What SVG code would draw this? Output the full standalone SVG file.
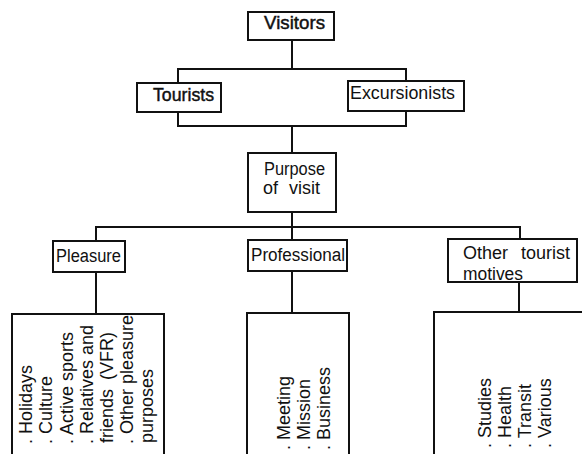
<svg xmlns="http://www.w3.org/2000/svg" width="582" height="454" viewBox="0 0 582 454">
  <style>
    .box { fill: #fff; stroke: #111; stroke-width: 2; }
    .wire { fill: none; stroke: #111; stroke-width: 2; stroke-linecap: square; }
    .lbl { font-family: "Liberation Sans", Arial, sans-serif; font-size: 18px; fill: #111; }
    .hd { font-family: "Liberation Sans", Arial, sans-serif; font-size: 18px; fill: #111; stroke: #111; stroke-width: 0.45; }
    .item { font-family: "Liberation Sans", Arial, sans-serif; font-size: 18px; fill: #111; }
  </style>
  <rect width="582" height="454" fill="#fff"/>

  <!-- connectors -->
  <g id="connectors" class="wire">
    <path d="M292 40 V69"/>
    <path d="M178 83 V69 H406 V81"/>
    <path d="M178 112 V126 H406 V111"/>
    <path d="M292 126 V153"/>
    <path d="M292 212 V227"/>
    <path d="M96 241 V227 H520 V239"/>
    <path d="M292 227 V240"/>
    <path d="M96 272 V314"/>
    <path d="M292 271 V313"/>
    <path d="M519 282 V312"/>
  </g>

  <g id="visitors">
    <rect class="box" x="248" y="12" width="86" height="28"/>
    <text class="hd" x="264" y="29" textLength="61" lengthAdjust="spacingAndGlyphs">Visitors</text>
  </g>

  <g id="tourists">
    <rect class="box" x="137" y="83" width="84" height="29"/>
    <text class="hd" x="153" y="101" textLength="61" lengthAdjust="spacingAndGlyphs">Tourists</text>
  </g>

  <g id="excursionists">
    <rect class="box" x="348" y="81" width="116" height="30"/>
    <text class="lbl" x="350" y="99" textLength="105" lengthAdjust="spacingAndGlyphs">Excursionists</text>
  </g>

  <g id="purpose">
    <rect class="box" x="248" y="153" width="88" height="59"/>
    <text class="lbl" x="264" y="175" textLength="61" lengthAdjust="spacingAndGlyphs">Purpose</text>
    <text class="lbl" x="263" y="194" word-spacing="6">of visit</text>
  </g>

  <g id="pleasure">
    <rect class="box" x="53" y="241" width="72" height="31"/>
    <text class="lbl" x="56" y="262" textLength="65" lengthAdjust="spacingAndGlyphs">Pleasure</text>
  </g>

  <g id="professional">
    <rect class="box" x="248" y="240" width="99" height="31"/>
    <text class="lbl" x="251" y="261" textLength="94" lengthAdjust="spacingAndGlyphs">Professional</text>
  </g>

  <g id="other-motives">
    <rect class="box" x="448" y="239" width="129" height="43"/>
    <text class="lbl" x="463" y="259" word-spacing="8">Other tourist</text>
    <text class="lbl" x="463" y="280" textLength="60" lengthAdjust="spacingAndGlyphs">motives</text>
  </g>

  <!-- lists, set vertically -->
  <g id="pleasure-list">
    <rect class="box" x="12" y="314" width="152" height="160"/>
    <text class="item" transform="translate(32 444) rotate(-90)">. Holidays</text>
    <text class="item" transform="translate(52 444) rotate(-90)">. Culture</text>
    <text class="item" transform="translate(73 444) rotate(-90)">. Active sports</text>
    <text class="item" transform="translate(93 444) rotate(-90)">. Relatives and</text>
    <text class="item" transform="translate(113 443) rotate(-90)" word-spacing="4">friends (VFR)</text>
    <text class="item" transform="translate(133 444) rotate(-90)">. Other pleasure</text>
    <text class="item" transform="translate(153 443) rotate(-90)">purposes</text>
  </g>

  <g id="professional-list">
    <rect class="box" x="247" y="313" width="102" height="160"/>
    <text class="item" transform="translate(290 450) rotate(-90)">. Meeting</text>
    <text class="item" transform="translate(310 450) rotate(-90)">. Mission</text>
    <text class="item" transform="translate(330 450) rotate(-90)">. Business</text>
  </g>

  <g id="other-list">
    <rect class="box" x="434" y="312" width="200" height="160"/>
    <text class="item" transform="translate(491 448) rotate(-90)">. Studies</text>
    <text class="item" transform="translate(511 448) rotate(-90)">. Health</text>
    <text class="item" transform="translate(531 448) rotate(-90)">. Transit</text>
    <text class="item" transform="translate(551 448) rotate(-90)">. Various</text>
  </g>
</svg>
